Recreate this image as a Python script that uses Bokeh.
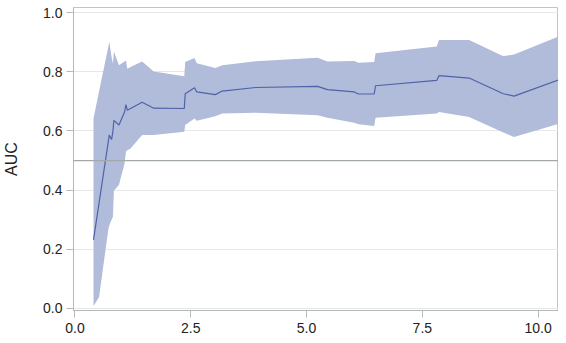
from bokeh.plotting import figure
from bokeh.models import Span, FixedTicker, ColumnDataSource
from bokeh.embed import file_html
from bokeh.resources import INLINE

# data
x_vals = [0.40, 0.52, 0.72, 0.74, 0.79, 0.82, 0.84, 0.95, 1.07, 1.10, 1.13, 1.20,
          1.45, 1.70, 2.36, 2.38, 2.58, 2.63, 3.03, 3.18, 3.90, 5.24, 5.45, 6.03,
          6.12, 6.46, 6.49, 7.81, 7.86, 8.51, 9.25, 9.48, 10.50]
auc_median = [0.232, 0.357, 0.565, 0.586, 0.571, 0.600, 0.636, 0.620, 0.664, 0.689,
              0.670, 0.676, 0.697, 0.677, 0.676, 0.726, 0.746, 0.732, 0.723, 0.735,
              0.747, 0.751, 0.740, 0.732, 0.725, 0.725, 0.753, 0.771, 0.787, 0.779,
              0.726, 0.718, 0.776]
auc_upper = [0.642, 0.734, 0.885, 0.902, 0.850, 0.827, 0.869, 0.822, 0.835, 0.838,
             0.810, 0.816, 0.835, 0.801, 0.785, 0.833, 0.847, 0.829, 0.813, 0.822,
             0.836, 0.848, 0.835, 0.837, 0.831, 0.833, 0.863, 0.886, 0.908, 0.908,
             0.853, 0.859, 0.923]
auc_lower = [0.008, 0.038, 0.268, 0.280, 0.300, 0.310, 0.398, 0.418, 0.490, 0.530,
             0.535, 0.541, 0.586, 0.586, 0.597, 0.620, 0.642, 0.635, 0.650, 0.659,
             0.662, 0.653, 0.645, 0.628, 0.623, 0.617, 0.645, 0.659, 0.664, 0.647,
             0.595, 0.580, 0.627]
x_ticks = [0.0, 2.5, 5.0, 7.5, 10.0]
y_ticks = [0.0, 0.2, 0.4, 0.6, 0.8, 1.0]
reference_auc = 0.5

src = ColumnDataSource(dict(x=x_vals, m=auc_median, lo=auc_lower, hi=auc_upper))

FONT = "Liberation Sans"
p = figure(width=558, height=335, output_backend="svg", toolbar_location=None,
           x_range=(-0.032, 10.44), y_range=(-0.007, 1.0175),
           min_border_left=72, min_border_right=0, min_border_top=7, min_border_bottom=0)
p.outline_line_color = "#bfc4c6"
p.outline_line_width = 1
p.background_fill_color = "white"

p.varea(x="x", y1="lo", y2="hi", source=src, fill_color="#b1bcda", fill_alpha=1.0)
p.line(x="x", y="m", source=src, line_color="#4f62a8", line_width=1.2)

p.add_layout(Span(location=reference_auc, dimension="width", line_color="#a3a9ab", line_width=1.2))

p.xgrid.visible = False
p.ygrid.grid_line_color = "#e6e8e8"
p.ygrid.grid_line_width = 1

for ax in (p.xaxis[0], p.yaxis[0]):
    ax.axis_line_color = "#b4b9bb"
    ax.major_tick_line_color = "#b4b9bb"
    ax.major_tick_out = 7
    ax.major_tick_in = 0
    ax.minor_tick_line_color = None
    ax.major_label_text_font = FONT
    ax.major_label_text_font_size = "14px"
    ax.major_label_text_color = "#222222"

p.xaxis.major_label_standoff = 5
p.yaxis.major_label_standoff = 4
p.xaxis.ticker = FixedTicker(ticks=x_ticks)
p.yaxis.ticker = FixedTicker(ticks=y_ticks)
p.xaxis.major_label_overrides = {t: f"{t:.1f}" for t in x_ticks}
p.yaxis.major_label_overrides = {t: f"{t:.1f}" for t in y_ticks}
p.yaxis.axis_label = "AUC"
p.yaxis.axis_label_text_font = FONT
p.yaxis.axis_label_text_font_size = "16px"
p.yaxis.axis_label_text_font_style = "normal"
p.yaxis.axis_label_text_color = "#222222"
p.yaxis.axis_label_standoff = 20

open("out.html", "w").write(file_html(p, INLINE))
